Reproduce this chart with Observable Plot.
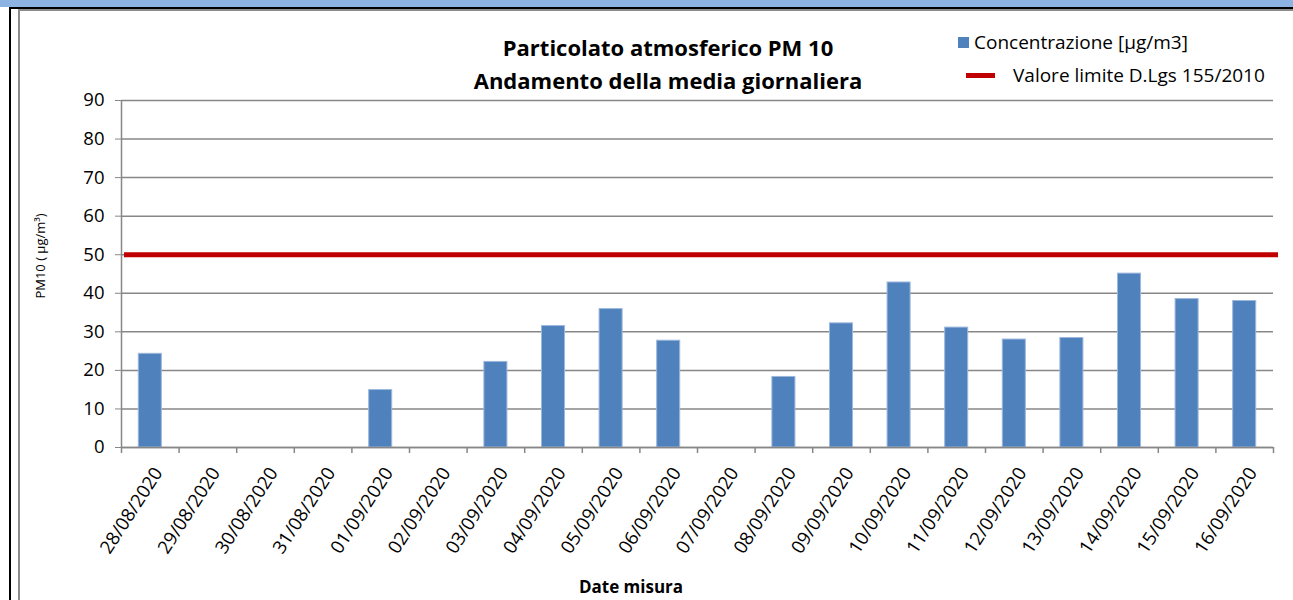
<!DOCTYPE html>
<html>
<head>
<meta charset="utf-8">
<script src="https://cdn.jsdelivr.net/npm/d3@7"></script>
<script src="https://cdn.jsdelivr.net/npm/@observablehq/plot@0.6"></script>
<style>
  html, body { margin: 0; padding: 0; background: #fff; }
  body { width: 1293px; height: 600px; position: relative; overflow: hidden; font-family: "Open Sans", "Liberation Sans", sans-serif; color: #000; }
  .abs { position: absolute; }
  #chart { position: absolute; left: 0; top: 0; }
  .title { left: 368px; width: 600px; text-align: center; font-weight: bold; font-size: 22px; white-space: nowrap; line-height: 30px; }
  .leg { font-size: 19px; white-space: nowrap; line-height: 26px; }
</style>
</head>
<body>
<div class="abs" style="left:0;top:0;width:1293px;height:7px;background:#8DB3E2"></div>
<div class="abs" style="left:9px;top:7px;width:1284px;height:2px;background:#000"></div>
<div class="abs" style="left:9px;top:7px;width:2px;height:593px;background:#000"></div>
<div class="abs" style="left:18px;top:9px;width:2px;height:591px;background:#8c8c8c"></div>
<div class="abs" style="left:18px;top:9px;width:1275px;height:2px;background:#8c8c8c"></div>
<div id="chart"></div>
<div class="abs title" style="top:32px">Particolato atmosferico PM 10</div>
<div class="abs title" style="top:65px">Andamento della media giornaliera</div>
<div class="abs" style="left:958px;top:37px;width:11px;height:11px;background:#4F81BD"></div>
<div class="abs leg" style="left:974px;top:29px">Concentrazione [µg/m3]</div>
<div class="abs" style="left:966px;top:73px;width:29px;height:5px;background:#C00000"></div>
<div class="abs leg" style="left:1013px;top:62px">Valore limite D.Lgs 155/2010</div>
<div class="abs" style="left:531px;width:200px;text-align:center;top:575px;font-size:17px;font-weight:bold;white-space:nowrap;line-height:24px">Date misura</div>
<script>
const dates = ["28/08/2020","29/08/2020","30/08/2020","31/08/2020","01/09/2020","02/09/2020","03/09/2020","04/09/2020","05/09/2020","06/09/2020","07/09/2020","08/09/2020","09/09/2020","10/09/2020","11/09/2020","12/09/2020","13/09/2020","14/09/2020","15/09/2020","16/09/2020"];
const concentrazione = [24.3, null, null, null, 14.9, null, 22.2, 31.5, 35.9, 27.7, null, 18.3, 32.2, 42.8, 31.1, 28.0, 28.4, 45.1, 38.5, 38.0];
const limite = 50;
const yTicks = [0, 10, 20, 30, 40, 50, 60, 70, 80, 90];

const rows = dates.map((d, i) => ({date: d, value: concentrazione[i]})).filter(r => r.value != null);

const W = 1293, H = 600, ML = 121, MR = 20, MT = 100, MB = 153;
const step = (W - ML - MR) / dates.length;
const plotH = H - MT - MB;
const gray = "#878787";

const chart = Plot.plot({
  width: W, height: H,
  marginLeft: ML, marginRight: MR, marginTop: MT, marginBottom: MB,
  style: {fontFamily: "Open Sans, Liberation Sans, sans-serif", color: "#000", background: "transparent"},
  x: {type: "band", domain: dates, paddingInner: 0.6, paddingOuter: 0.3, round: false, label: null},
  y: {domain: [0, 90], label: null},
  marks: [
    Plot.gridY(yTicks, {stroke: gray, strokeOpacity: 1, strokeWidth: 1.5}),
    Plot.ruleX([dates[0]], {dx: -step / 2, stroke: gray, strokeWidth: 1.5}),
    Plot.ruleX([dates[0]], {dx: -step / 2, stroke: gray, strokeWidth: 1.5, insetTop: plotH, insetBottom: -6}),
    Plot.ruleX(dates, {dx: step / 2, stroke: gray, strokeWidth: 1.5, insetTop: plotH, insetBottom: -6}),
    Plot.barY(rows, {x: "date", y: "value", fill: "#4F81BD", stroke: "#9db8dc", strokeWidth: 1}),
    Plot.ruleY([0], {stroke: gray, strokeWidth: 1.5}),
    Plot.ruleY([limite], {stroke: "#C00000", strokeWidth: 5, insetLeft: 3, insetRight: -5}),
    Plot.axisY({ticks: yTicks, tickSize: 6, tickPadding: 11, stroke: gray, fontSize: 18.5, label: null}),
    Plot.axisX({tickSize: 0, tickRotate: -57, tickPadding: 22, fontSize: 18.5, label: null, dx: 8}),
    Plot.text(["PM10 ( µg/m³)"], {frameAnchor: "left", textAnchor: "middle", rotate: -90, dx: -81, dy: -18, fontSize: 13})
  ]
});
document.getElementById("chart").appendChild(chart);
</script>
</body>
</html>
